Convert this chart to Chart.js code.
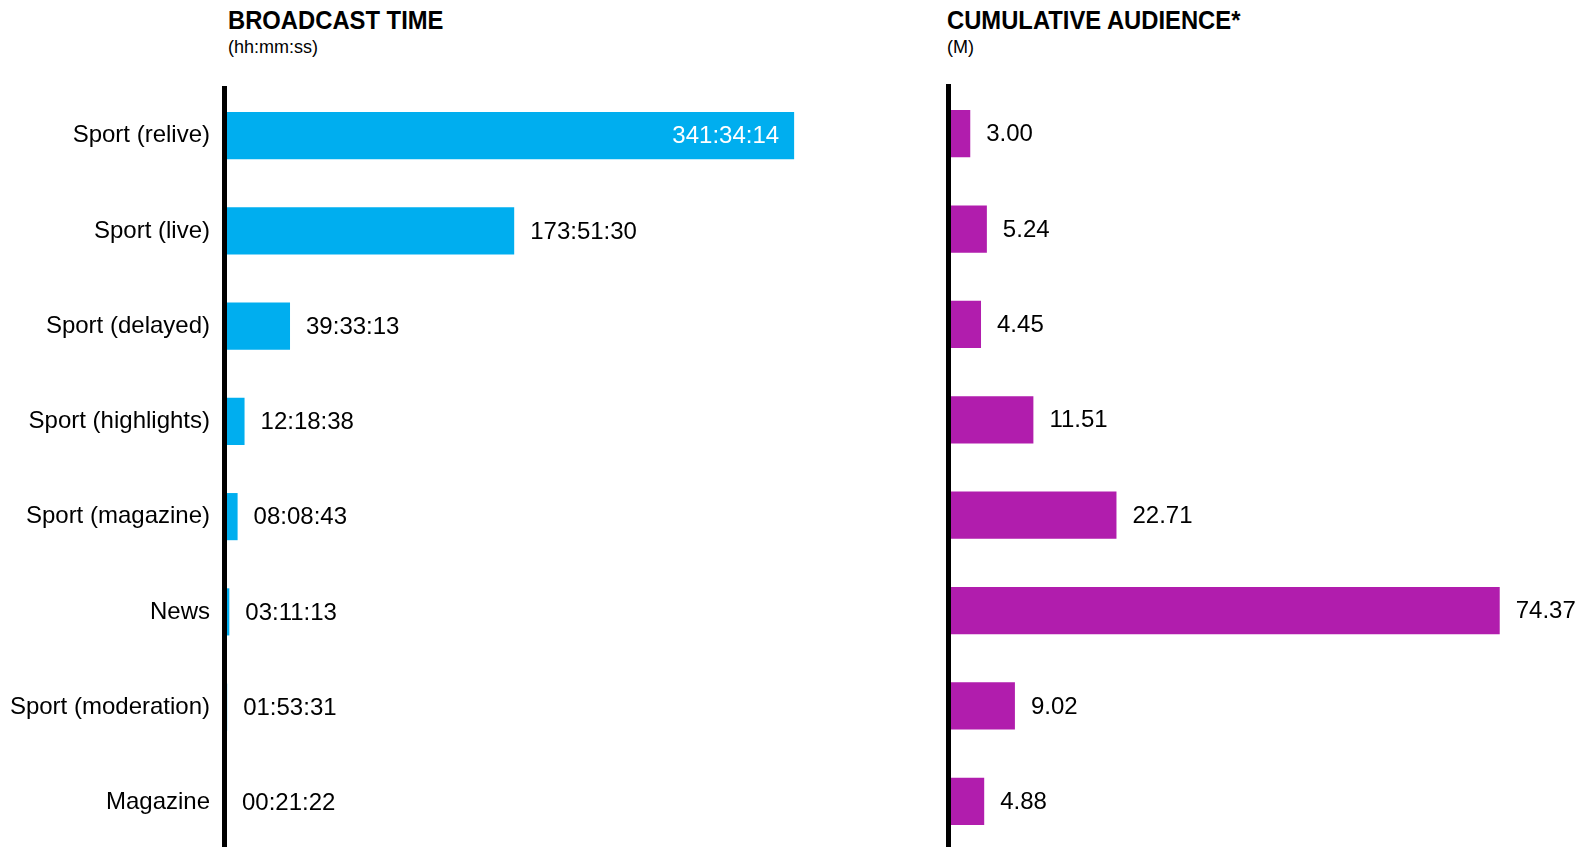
<!DOCTYPE html>
<html lang="en">
<head>
<meta charset="UTF-8" />
<title>Broadcast time and cumulative audience</title>
<script src="https://cdn.jsdelivr.net/npm/chart.js@4.4.0/dist/chart.umd.min.js"></script>
<style>
  html, body { margin: 0; padding: 0; background: #fff; }
  body { width: 1586px; height: 847px; position: relative; overflow: hidden; font-family: "Liberation Sans", Arial, sans-serif; }
  canvas { position: absolute; top: 0; }
  .title { position: absolute; font-weight: bold; font-size: 26px; line-height: 26px; color: #000;
           transform: scaleX(0.915); transform-origin: left center; white-space: nowrap; }
  .sub { position: absolute; font-size: 18px; line-height: 18px; color: #000; white-space: nowrap; }
</style>
</head>
<body>
<div class="title" style="left:228px; top:7px;">BROADCAST TIME</div>
<div class="sub" style="left:228px; top:38px;">(hh:mm:ss)</div>
<div class="title" style="left:947px; top:7px;">CUMULATIVE AUDIENCE*</div>
<div class="sub" style="left:947px; top:38px;">(M)</div>

<canvas id="left" width="900" height="850" style="left:0px"></canvas>
<canvas id="right" width="686" height="849" style="left:900px"></canvas>

<script>
// data
const categories = ['Sport (relive)', 'Sport (live)', 'Sport (delayed)', 'Sport (highlights)',
                    'Sport (magazine)', 'News', 'Sport (moderation)', 'Magazine'];
const broadcastTime = ['341:34:14', '173:51:30', '39:33:13', '12:18:38',
                       '08:08:43', '03:11:13', '01:53:31', '00:21:22'];
const audience = [3.00, 5.24, 4.45, 11.51, 22.71, 74.37, 9.02, 4.88];

// hh:mm:ss -> hours
function toHours(s) {
  const p = s.split(':').map(Number);
  return p[0] + p[1] / 60 + p[2] / 3600;
}
const broadcastHours = broadcastTime.map(toHours);

const FONT = '"Liberation Sans", Arial, sans-serif';

// draws the value next to (or inside) each bar
const valueLabels = {
  id: 'valueLabels',
  afterDatasetsDraw(chart, args, opts) {
    const ctx = chart.ctx;
    const meta = chart.getDatasetMeta(0);
    ctx.save();
    ctx.font = '24px ' + FONT;
    ctx.textBaseline = 'middle';
    meta.data.forEach((bar, i) => {
      const txt = opts.texts[i];
      const w = bar.x - chart.chartArea.left;
      if (opts.inside && w > 400) {
        ctx.fillStyle = '#fff';
        ctx.textAlign = 'right';
        ctx.fillText(txt, bar.x - 15, bar.y + 1);
      } else {
        ctx.fillStyle = '#000';
        ctx.textAlign = 'left';
        ctx.fillText(txt, Math.max(bar.x, chart.chartArea.left + 2) + 16, bar.y + 1);
      }
    });
    ctx.restore();
  }
};

function makeChart(id, values, texts, color, max, axisWidth, top, showLabels, inside) {
  return new Chart(document.getElementById(id), {
    type: 'bar',
    data: {
      labels: categories,
      datasets: [{
        data: values,
        backgroundColor: color,
        borderWidth: 0,
        barPercentage: 0.495,
        categoryPercentage: 1,
      }],
    },
    options: {
      indexAxis: 'y',
      responsive: false,
      animation: false,
      layout: { autoPadding: false, padding: { top: top, bottom: 0, left: 0, right: 0 } },
      plugins: {
        legend: { display: false },
        tooltip: { enabled: false },
        valueLabels: { texts: texts, inside: inside },
      },
      scales: {
        x: { display: false, min: 0, max: max },
        y: {
          grid: { display: false, drawTicks: false },
          border: { display: true, color: '#000', width: 5, z: 1 },
          ticks: {
            display: showLabels,
            color: '#000',
            padding: 14,
            font: { size: 24, family: FONT },
          },
          afterFit: function (scale) {
            scale.width = axisWidth;
            scale.paddingTop = 0;
            scale.paddingBottom = 0;
          },
        },
      },
    },
    plugins: [valueLabels],
  });
}

makeChart('left', broadcastHours, broadcastTime, '#00AEEF', 405, 224, 88, true, true);
makeChart('right', audience, audience.map(v => v.toFixed(2)), '#B11DAD', 86, 48, 86, false, false);
</script>
</body>
</html>
